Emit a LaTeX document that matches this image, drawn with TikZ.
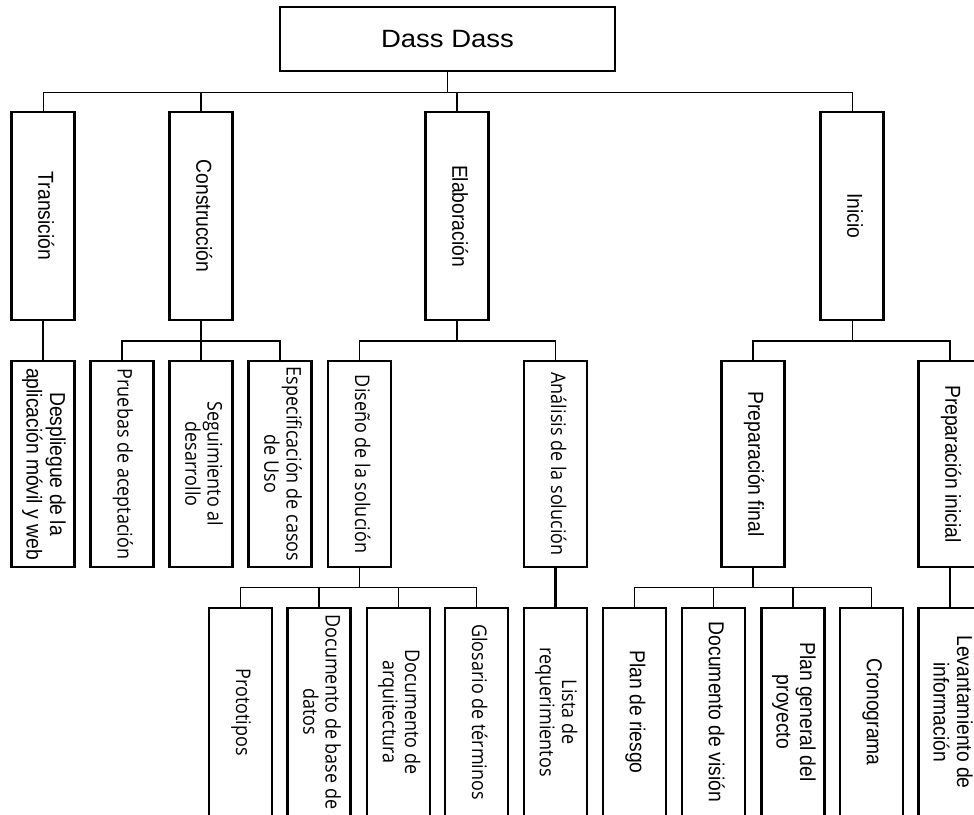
\documentclass[tikz,border=0pt]{standalone}
\usepackage{fontspec}
\usepackage{graphicx}
\setmainfont{Liberation Sans}
\newfontfamily\osans{Open Sans}

% vertical (top-to-bottom) label, one or more centred lines, slightly widened
\newcommand{\vlabel}[1]{\scalebox{1.12}[1]{\rotatebox{-90}{\begin{tabular}{@{}c@{}}#1\end{tabular}}}}

\tikzset{
  x=1pt, y=1pt,
  box/.style={draw, line width=2.2pt, fill=white, inner sep=0pt, minimum width=63pt},
  rootbox/.style={box, minimum width=335pt, minimum height=64pt,
                  font=\fontsize{25}{30}\selectfont},
  phase/.style={box, minimum height=208pt, font=\fontsize{19.3}{21}\selectfont},
  task/.style={box, minimum height=206pt, font=\fontsize{19.3}{21}\selectfont},
  otask/.style={task, font=\osans\fontsize{18}{20}\selectfont},
  item/.style={box, minimum height=208pt, font=\fontsize{19.3}{21}\selectfont},
  oitem/.style={item, font=\osans\fontsize{18}{20}\selectfont},
  thinline/.style={line width=1pt},
  link/.style={line width=1.9pt},
  heavy/.style={line width=2.8pt}
}

\begin{document}
\begin{tikzpicture}
\clip (0,0) rectangle (974,-814);

% root
\node[rootbox] (root) at (447.5,-39) {\scalebox{1.1}[1]{Dass Dass}};

% phases
\node[phase] (trans)  at (43,-216)  {\vlabel{Transición}};
\node[phase] (constr) at (201,-216) {\vlabel{Construcción}};
\node[phase] (elab)   at (457,-216) {\vlabel{Elaboración}};
\node[phase] (inicio) at (852,-216) {\vlabel{Inicio}};

% second level
\node[task]  (despl)  at (43,-464)    {\vlabel{Despliegue de la\\aplicación móvil y web}};
\node[otask] (prueb)  at (122,-464)   {\vlabel{Pruebas de aceptación}};
\node[otask] (segui)  at (201,-464)   {\vlabel{Seguimiento al\\desarrollo}};
\node[otask] (espec)  at (280,-464)   {\vlabel{Especificación de casos\\de Uso}};
\node[otask] (disen)  at (359.5,-464) {\vlabel{Diseño de la solución}};
\node[otask] (anali)  at (555.5,-464) {\vlabel{Análisis de la solución}};
\node[task]  (pfinal) at (753,-464)   {\vlabel{Preparación final}};
\node[task]  (pinic)  at (950,-464)   {\vlabel{Preparación inicial}};

% third level
\node[oitem] (proto)  at (240.5,-712) {\vlabel{Prototipos}};
\node[oitem] (docbd)  at (319,-712)   {\vlabel{Documento de base de\\datos}};
\node[oitem] (docarq) at (398.5,-712) {\vlabel{Documento de\\arquitectura}};
\node[oitem] (glos)   at (476.5,-712) {\vlabel{Glosario de términos}};
\node[oitem] (lista)  at (555.5,-712) {\vlabel{Lista de\\requerimientos}};
\node[item]  (riesgo) at (634.5,-712) {\vlabel{Plan de riesgo}};
\node[item]  (vision) at (713.5,-712) {\vlabel{Documento de visión}};
\node[item]  (plang)  at (793,-712)   {\vlabel{Plan general del\\proyecto}};
\node[item]  (crono)  at (871.5,-712) {\vlabel{Cronograma}};
\node[item]  (levan)  at (950,-712)   {\vlabel{Levantamiento de\\información}};

% bus levels
\coordinate (busA) at (0,-92);
\coordinate (busB) at (0,-341);
\coordinate (busC) at (0,-587.5);

% root to phases
\draw[line width=1.5pt] (root.south) -- (root.south |- busA);
\draw[thinline] (trans.north |- busA) -- (inicio.north |- busA);
\draw[thinline] (trans.north |- busA) -- (trans.north);
\draw[line width=1.5pt] (constr.north |- busA) -- (constr.north);
\draw[heavy] (elab.north |- busA) -- (elab.north);
\draw[thinline] (inicio.north |- busA) -- (inicio.north);

% Transición
\draw[link] (trans.south) -- (despl.north);

% Construcción
\draw[link] (constr.south) -- (segui.north);
\draw[link] (prueb.north) -- (prueb.north |- busB) -- (espec.north |- busB) -- (espec.north);

% Elaboración
\draw[link] (elab.south) -- (elab.south |- busB);
\draw[link] (disen.north) -- (disen.north |- busB) -- (anali.north |- busB) -- (anali.north);

% Inicio
\draw[thinline] (inicio.south) -- (inicio.south |- busB);
\draw[link] (pfinal.north) -- (pfinal.north |- busB) -- (pinic.north |- busB) -- (pinic.north);

% Diseño de la solución
\draw[link] (disen.south) -- (disen.south |- busC);
\draw[link] (proto.north) -- (proto.north |- busC) -- (glos.north |- busC) -- (glos.north);
\draw[heavy] (docbd.north |- busC) -- (docbd.north);
\draw[thinline] (docarq.north |- busC) -- (docarq.north);

% Análisis de la solución
\draw[heavy] (anali.south) -- (lista.north);

% Preparación final
\draw[link] (pfinal.south) -- (pfinal.south |- busC);
\draw[link] (riesgo.north) -- (riesgo.north |- busC) -- (crono.north |- busC) -- (crono.north);
\draw[link] (vision.north |- busC) -- (vision.north);
\draw[link] (plang.north |- busC) -- (plang.north);

% Preparación inicial
\draw[link] (pinic.south) -- (levan.north);
\end{tikzpicture}
\end{document}
